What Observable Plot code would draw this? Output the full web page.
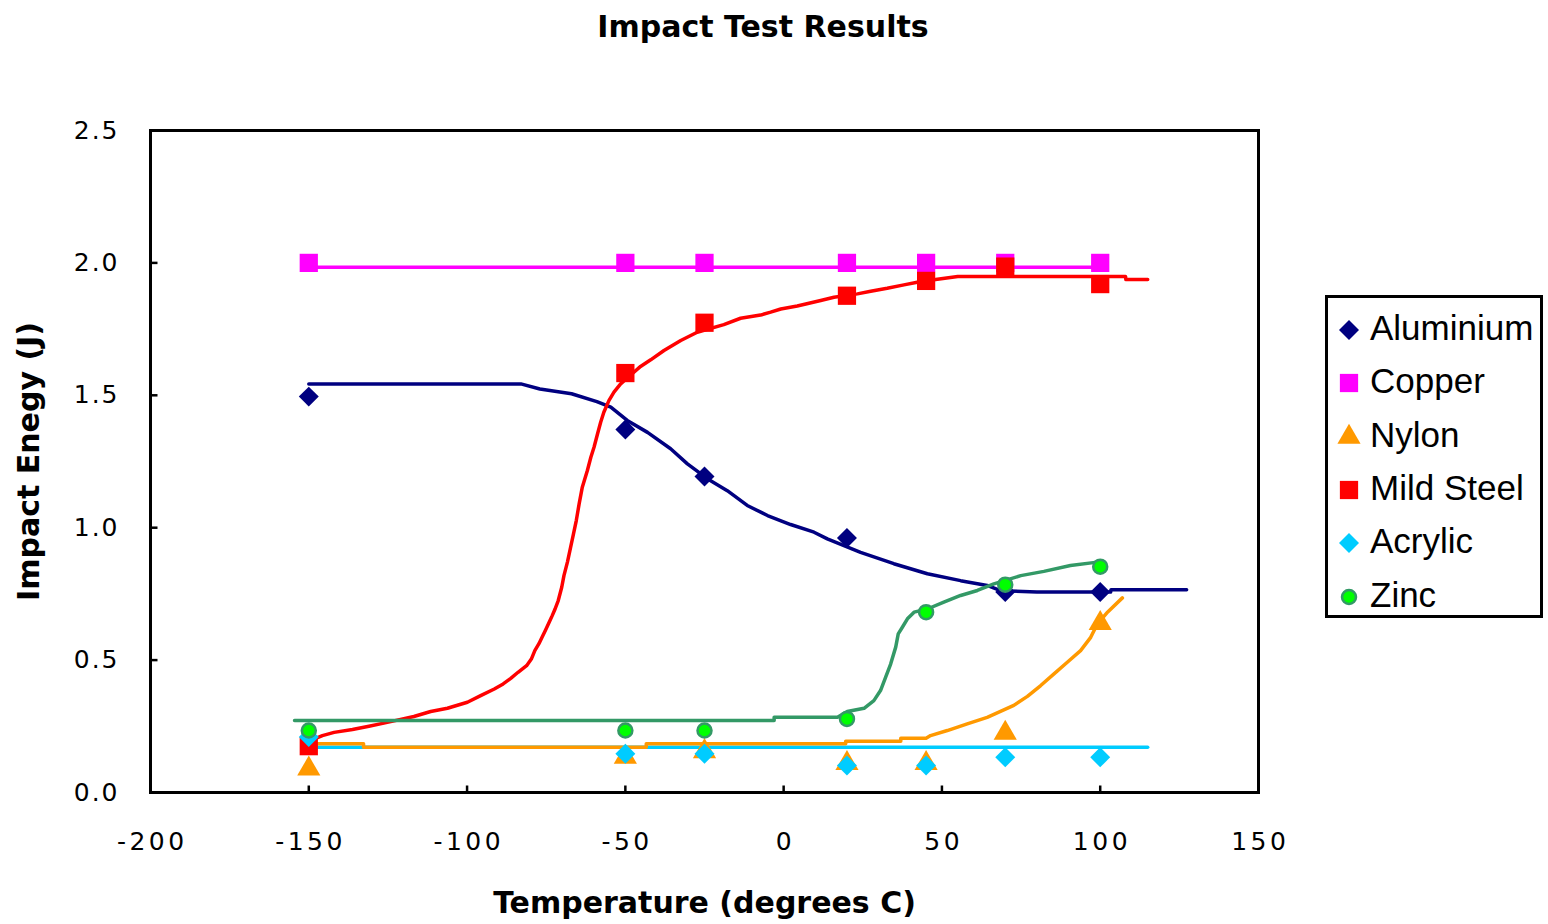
<!DOCTYPE html>
<html>
<head>
<meta charset="utf-8">
<script src="https://cdn.jsdelivr.net/npm/d3@7"></script>
<script src="https://cdn.jsdelivr.net/npm/@observablehq/plot@0.6"></script>
<style>
  html, body { margin: 0; padding: 0; background: #fff; }
  #wrap { position: relative; width: 1548px; height: 924px; overflow: hidden; font-family: "Liberation Sans", Arial, sans-serif; }
  #title { height: 60px; line-height: 54px; width: 1548px; box-sizing: border-box; padding-right: 22px; text-align: center; font-family: "DejaVu Sans", sans-serif; font-weight: bold; font-size: 30px; color: #000; }
  #legend { position: absolute; left: 1325px; top: 295px; width: 218px; height: 323px; border: 3px solid #000; box-sizing: border-box; background: #fff; }
  .row { position: absolute; left: 0; width: 212px; height: 40px; }
  .row svg { position: absolute; left: 1px; top: 0; }
  .row span { position: absolute; left: 42px; top: 0; line-height: 40px; font-size: 35px; color: #000; white-space: nowrap; }
</style>
</head>
<body>
<div id="wrap">
  <div id="title">Impact Test Results</div>
  <div id="chart"></div>
  <div id="legend"></div>
</div>
<script>
// ---------- data ----------
const seriesNames = ["Aluminium", "Copper", "Nylon", "Mild Steel", "Acrylic", "Zinc"];
const temps = [-150, -50, -25, 20, 45, 70, 100];
const aluminiumTemps = [-150, -50, -25, 20, 70, 100];
const aluminium = [1.495, 1.371, 1.193, 0.961, 0.757, 0.757];
const copper = [2.0, 2.0, 2.0, 2.0, 2.0, 2.0, 2.0];
const nylon = [0.089, 0.134, 0.155, 0.11, 0.11, 0.224, 0.639];
const mildSteel = [0.175, 1.584, 1.774, 1.876, 1.932, 1.986, 1.92];
const acrylic = [0.21, 0.146, 0.146, 0.102, 0.102, 0.133, 0.133];
const zinc = [0.234, 0.234, 0.234, 0.278, 0.681, 0.785, 0.853];

// fitted trend curves: [temperature, energy]
const aluminiumTrend = [[-150,1.543],[-83,1.543],[-77,1.524],[-67,1.506],[-59,1.476],[-54.6,1.455],[-49.4,1.405],[-43,1.36],[-35.7,1.298],[-30.4,1.241],[-24.1,1.185],[-17.8,1.14],[-11.5,1.084],[-5.1,1.046],[2.2,1.012],[9.6,0.983],[13.8,0.958],[24.3,0.907],[34.8,0.864],[45.4,0.826],[55.9,0.80],[64.3,0.782],[68.5,0.762],[80,0.757],[103.3,0.757],[103.4,0.766],[127.3,0.766]];
const copperTrend = [[-150,1.984],[100,1.984]];
const nylonTrend = [[-150,0.184],[-132.7,0.184],[-132.7,0.171],[-43.4,0.171],[-43.4,0.184],[19.6,0.184],[19.6,0.194],[37,0.194],[37,0.205],[45,0.205],[46.4,0.215],[51.7,0.234],[58,0.259],[64.3,0.284],[68.5,0.306],[72.7,0.329],[77,0.363],[81.2,0.404],[85.4,0.448],[89.6,0.492],[93.8,0.536],[97,0.586],[99.1,0.636],[102.3,0.681],[107,0.735]];
const mildSteelTrend = [[-150,0.19],[-148.4,0.202],[-145.7,0.215],[-142,0.227],[-136.2,0.238],[-131,0.25],[-126.3,0.262],[-116.8,0.287],[-111.5,0.306],[-106.2,0.318],[-99.9,0.341],[-95.7,0.366],[-91.4,0.391],[-88.6,0.41],[-86.2,0.431],[-83.9,0.454],[-81.2,0.479],[-79.7,0.504],[-78.6,0.536],[-77.3,0.562],[-76.2,0.589],[-75.2,0.614],[-74.1,0.642],[-73.1,0.668],[-72.2,0.693],[-71.2,0.725],[-70.1,0.775],[-69.4,0.819],[-68.3,0.87],[-67.3,0.926],[-66.4,0.976],[-65.5,1.027],[-64.6,1.09],[-63.6,1.153],[-62,1.216],[-60.9,1.266],[-59.9,1.304],[-58.8,1.354],[-57.8,1.398],[-56.8,1.436],[-55.2,1.48],[-53.6,1.512],[-51.5,1.543],[-47.3,1.587],[-45.2,1.609],[-42,1.634],[-37.8,1.669],[-32.5,1.707],[-27.3,1.738],[-18.9,1.767],[-13.6,1.791],[-7.3,1.803],[-4.1,1.814],[-0.9,1.826],[4.3,1.837],[11.7,1.858],[15.9,1.87],[23.3,1.883],[27.5,1.893],[32.7,1.904],[38,1.917],[42.2,1.927],[48,1.937],[55,1.949],[108,1.949],[108.1,1.937],[115,1.937]];
const acrylicTrend = [[-149,0.171],[115,0.171]];
const zincTrend = [[-154.5,0.272],[-3,0.272],[-3,0.284],[17,0.284],[20.1,0.306],[25.4,0.318],[28.5,0.347],[30.6,0.385],[32.2,0.435],[33.8,0.485],[35.4,0.549],[36.2,0.599],[37.5,0.624],[39.1,0.656],[41.2,0.681],[45.4,0.693],[50.6,0.719],[55.9,0.744],[61.2,0.763],[66.4,0.788],[74.9,0.819],[82.2,0.835],[90.6,0.857],[99.1,0.87]];

const xTicks = [-200, -150, -100, -50, 0, 50, 100, 150];
const yTicks = [0, 0.5, 1.0, 1.5, 2.0, 2.5];
const xLabel = "Temperature (degrees C)";
const yLabel = "Impact Enegy (J)";

// ---------- styles ----------
const styles = {
  "Aluminium":  {color: "#000080", symbol: "diamond2", r: 9,    fill: "#000080", stroke: "none"},
  "Copper":     {color: "#FF00FF", symbol: "square",   r: 10.3, fill: "#FF00FF", stroke: "none"},
  "Nylon":      {color: "#FF9900", symbol: "triangle", r: 8.6,  fill: "#FF9900", stroke: "none"},
  "Mild Steel": {color: "#FF0000", symbol: "square",   r: 10.3, fill: "#FF0000", stroke: "none"},
  "Acrylic":    {color: "#00CCFF", symbol: "diamond2", r: 9,    fill: "#00CCFF", stroke: "none"},
  "Zinc":       {color: "#339966", symbol: "circle",   r: 7,    fill: "#00FF00", stroke: "#339966"}
};

const pts = (xs, ys) => xs.map((x, i) => ({x, y: ys[i]}));
const seriesPoints = {
  "Aluminium": pts(aluminiumTemps, aluminium),
  "Copper": pts(temps, copper),
  "Nylon": pts(temps, nylon),
  "Mild Steel": pts(temps, mildSteel),
  "Acrylic": pts(temps, acrylic),
  "Zinc": pts(temps, zinc)
};
const seriesTrends = {
  "Aluminium": aluminiumTrend, "Copper": copperTrend, "Nylon": nylonTrend,
  "Mild Steel": mildSteelTrend, "Acrylic": acrylicTrend, "Zinc": zincTrend
};

const lineOrder = ["Aluminium", "Copper", "Mild Steel", "Acrylic", "Nylon", "Zinc"];
const dotOrder = ["Aluminium", "Copper", "Mild Steel", "Nylon", "Acrylic", "Zinc"];

// inward tick marks drawn as custom symbols
const tickLen = 7;
const tickUp = {draw(ctx) { ctx.moveTo(0, 0); ctx.lineTo(0, -tickLen); }};
const tickRight = {draw(ctx) { ctx.moveTo(0, 0); ctx.lineTo(tickLen, 0); }};

const marks = [
  Plot.dot(xTicks, {x: d => d, frameAnchor: "bottom", symbol: tickUp, fill: "none", stroke: "#000", strokeWidth: 2.5}),
  Plot.dot(yTicks, {y: d => d, frameAnchor: "left", symbol: tickRight, fill: "none", stroke: "#000", strokeWidth: 2.5})
];
for (const name of lineOrder) {
  marks.push(Plot.line(seriesTrends[name], {x: d => d[0], y: d => d[1], stroke: styles[name].color, strokeWidth: 3.5}));
}
for (const name of dotOrder) {
  const s = styles[name];
  marks.push(Plot.dot(seriesPoints[name], {x: "x", y: "y", symbol: s.symbol, r: s.r, fill: s.fill, stroke: s.stroke, strokeWidth: name === "Zinc" ? 2.5 : 0}));
}

const chart = Plot.plot({
  width: 1548,
  height: 864,
  marginTop: 70,
  marginLeft: 150,
  marginRight: 290,
  marginBottom: 132,
  style: {fontFamily: "'DejaVu Sans', sans-serif", color: "#000", background: "#fff"},
  x: {domain: [-200, 150]},
  y: {domain: [0, 2.5]},
  marks: [
    ...marks,
    Plot.frame({stroke: "#000", strokeWidth: 3}),
    Plot.axisX(xTicks, {anchor: "bottom", tickSize: 0, tickPadding: 40, fontSize: 25, tickFormat: d => String(d), label: null}),
    Plot.axisY(yTicks, {anchor: "left", tickSize: 0, tickPadding: 31, fontSize: 25, tickFormat: d => d.toFixed(1), label: null}),
    Plot.text([xLabel], {frameAnchor: "bottom", textAnchor: "middle", dy: 111, lineAnchor: "middle", text: d => d, fontSize: 30, fontWeight: "bold"}),
    Plot.text([yLabel], {frameAnchor: "left", textAnchor: "middle", dx: -121, rotate: -90, lineAnchor: "middle", text: d => d, fontSize: 30, fontWeight: "bold"})
  ]
});
document.getElementById("chart").appendChild(chart);

const svg = d3.select(chart);
svg.selectAll("g[aria-label='x-axis tick label'] text").style("letter-spacing", "3.5px").attr("dx", 1.75);
svg.selectAll("g[aria-label='y-axis tick label'] text").style("letter-spacing", "2px");
svg.selectAll("text").filter(function () { return this.textContent === xLabel || this.textContent === yLabel; })
  .attr("fill", "#000");

// ---------- legend ----------
const symbolTypes = {diamond2: d3.symbolDiamond2, square: d3.symbolSquare, triangle: d3.symbolTriangle, circle: d3.symbolCircle};
const legend = d3.select("#legend");
seriesNames.forEach((name, i) => {
  const s = styles[name];
  const row = legend.append("div").attr("class", "row").style("top", (30 + i * 53.3 - 20) + "px");
  const sv = row.append("svg").attr("width", 40).attr("height", 40);
  sv.append("path")
    .attr("transform", "translate(20,22)")
    .attr("d", d3.symbol(symbolTypes[s.symbol], Math.PI * s.r * s.r)())
    .attr("fill", s.fill)
    .attr("stroke", s.stroke)
    .attr("stroke-width", name === "Zinc" ? 2.5 : 0);
  row.append("span").text(name);
});
</script>
</body>
</html>
